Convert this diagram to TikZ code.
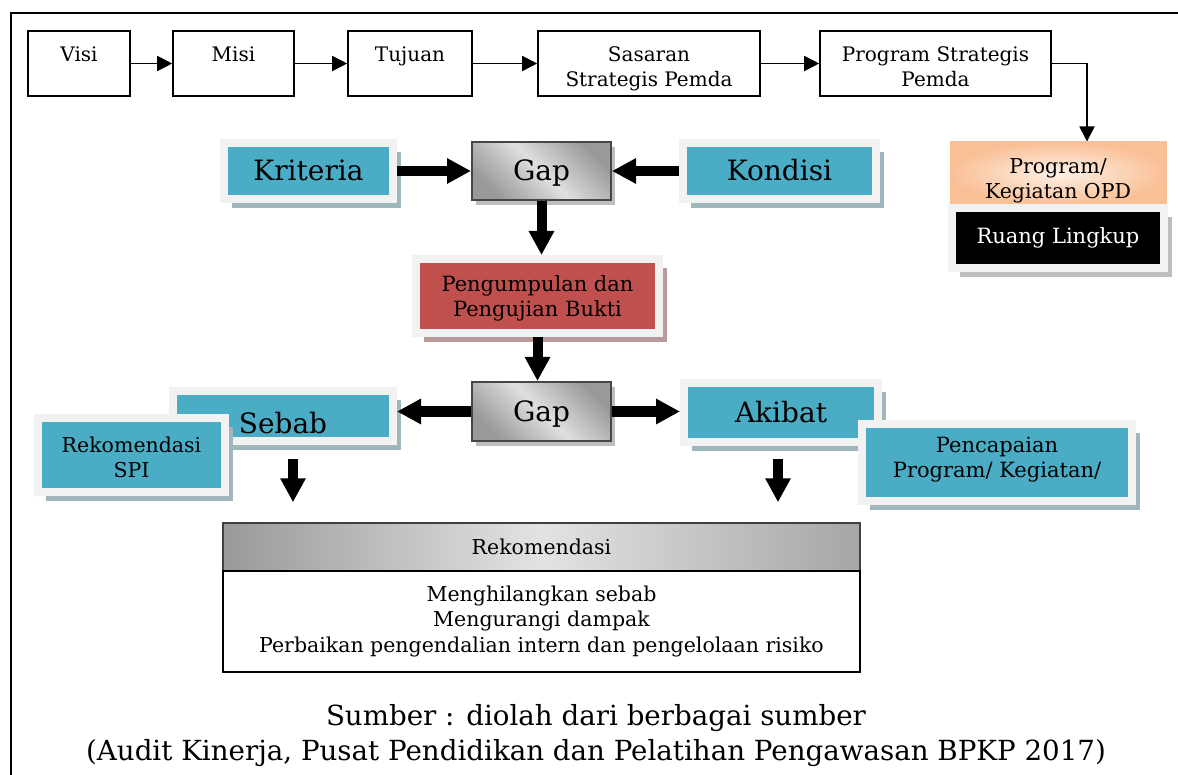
\documentclass[tikz,border=0pt]{standalone}
\usepackage{fontspec}
\setmainfont{DejaVu Serif}
\usetikzlibrary{arrows.meta,shadows}

\definecolor{tealfill}{HTML}{4BACC6}
\definecolor{framegray}{HTML}{F2F2F2}
\definecolor{redfill}{HTML}{C0504D}
\definecolor{tealshadow}{HTML}{9FB6BD}
\definecolor{redshadow}{HTML}{B89A9A}
\definecolor{grayshadow}{HTML}{BEBEBE}
\definecolor{opdlight}{HTML}{FEF1E7}
\definecolor{opddark}{HTML}{F9C096}

\newcommand{\fsz}[2]{\fontsize{#1}{#2}\selectfont}

\begin{document}
\begin{tikzpicture}[x=1pt, y=-1pt,
    topbox/.style={rectangle, draw, line width=1.6pt, fill=white, inner sep=0pt, align=center,
        minimum height=65pt, text height=15pt, text depth=18pt, font=\fsz{20}{25}},
    twolines/.style={text height=47pt, text depth=0pt},
    framebox/.style={rectangle, fill=#1, draw=framegray, line width=8pt, inner sep=0pt, align=center},
    tealbox/.style={framebox=tealfill, drop shadow={fill=tealshadow, opacity=1, shadow xshift=8pt, shadow yshift=-9pt}},
    gapbox/.style={rectangle, draw=gray!55!black, line width=2pt, inner sep=0pt,
        left color=gray!80, right color=gray!80, middle color=gray!25, shading angle=135,
        drop shadow={fill=grayshadow, opacity=1, shadow xshift=4pt, shadow yshift=-5pt},
        minimum width=139pt, font=\fsz{28}{34}, text height=20pt, text depth=0pt},
    bigtxt/.style={font=\fsz{28}{34}, text height=20pt, text depth=0pt},
    arrow/.style={-{Triangle[length=15pt,width=15pt]}, line width=1.8pt},
    bigarrow/.style={-{Triangle[length=24pt,width=24pt]}, line width=10pt}
]
    \useasboundingbox (0,0) rectangle (1178,775);
    \draw[line width=1.5pt] (11,780) -- (11,13) -- (1180,13);

    % top row
    \node[topbox, minimum width=102pt] (visi) at (79,63.5) {Visi};
    \node[topbox, minimum width=121pt] (misi) at (233.5,63.5) {Misi};
    \node[topbox, minimum width=124pt] (tujuan) at (410,63.5) {Tujuan};
    \node[topbox, twolines, minimum width=222pt] (sasaran) at (649,63.5) {Sasaran\\Strategis Pemda};
    \node[topbox, twolines, minimum width=231pt] (progpemda) at (935.5,63.5) {Program Strategis\\Pemda};

    \draw[arrow] (visi) -- (misi);
    \draw[arrow] (misi) -- (tujuan);
    \draw[arrow] (tujuan) -- (sasaran);
    \draw[arrow] (sasaran) -- (progpemda);

    % right side
    \node[rectangle, draw=opddark, line width=1pt, inner color=opdlight, outer color=opddark,
        minimum width=216pt, minimum height=62pt, inner sep=0pt, align=center,
        text height=52pt, text depth=0pt, font=\fsz{20.5}{25}] (opd) at (1058,173) {Program/\\Kegiatan OPD};
    \node[framebox=black, drop shadow={fill=grayshadow, opacity=1, shadow xshift=8pt, shadow yshift=-9pt},
        text=white, minimum width=212pt, minimum height=60pt, font=\fsz{21}{25},
        text height=15pt, text depth=3pt] (ruang) at (1058,238) {Ruang Lingkup};
    \draw[arrow] (progpemda.east) -| ([xshift=29pt]opd.north);

    % gap analysis
    \node[tealbox, bigtxt, minimum width=169pt, minimum height=56pt] (kriteria) at (308.5,171) {Kriteria};
    \node[gapbox, minimum height=58pt] (gap1) at (541.5,171) {Gap};
    \node[tealbox, bigtxt, minimum width=193pt, minimum height=56pt] (kondisi) at (779.5,171) {Kondisi};
    \node[framebox=redfill, drop shadow={fill=redshadow, opacity=1, shadow xshift=8pt, shadow yshift=-9pt},
        minimum width=243pt, minimum height=74pt, font=\fsz{21}{25}, text height=42pt, text depth=0pt]
        (bukti) at (537.5,296) {Pengumpulan dan\\Pengujian Bukti};
    \node[gapbox, minimum height=59pt] (gap2) at (541.5,411.5) {Gap};

    \node[tealbox, bigtxt, text height=34pt, minimum width=220pt, minimum height=50pt] (sebab) at (283,416) {Sebab};
    \node[tealbox, minimum width=187pt, minimum height=74pt, font=\fsz{20.5}{25}, text height=44pt, text depth=0pt]
        (rekspi) at (131.5,455) {Rekomendasi\\SPI};
    \node[tealbox, bigtxt, minimum width=194pt, minimum height=59pt] (akibat) at (781,412.5) {Akibat};
    \node[tealbox, minimum width=270pt, minimum height=77pt, font=\fsz{21}{25}, text height=29pt, text depth=0pt]
        (capai) at (997,462.5) {Pencapaian\\Program/ Kegiatan/};

    \draw[bigarrow] (kriteria) -- (gap1);
    \draw[bigarrow] (kondisi) -- (gap1);
    \draw[bigarrow] (gap1.south) -- (gap1.south |- bukti.north);
    \draw[bigarrow] (bukti.south) -- (bukti.south |- gap2.north);
    \draw[bigarrow] (gap2.west) -- (gap2.west -| sebab.east);
    \draw[bigarrow] (gap2.east) -- (gap2.east -| akibat.west);

    % recommendation
    \node[rectangle, draw=black!75, line width=1.5pt, left color=gray!80, right color=gray!70, middle color=gray!22,
        minimum width=637pt, minimum height=48pt, inner sep=0pt, font=\fsz{20.5}{25}] (rekhead) at (541.5,547) {Rekomendasi};
    \node[rectangle, draw, line width=1.8pt, fill=white, minimum width=637pt, minimum height=101pt, inner sep=0pt,
        align=center, font=\fsz{20.5}{25.5}, text height=61pt, text depth=0pt] (rekbody) at (541.5,621.5)
        {Menghilangkan sebab\\Mengurangi dampak\\Perbaikan pengendalian intern dan pengelolaan risiko};

    \draw[bigarrow, shorten <=14pt, shorten >=20pt] ([xshift=10pt]sebab.south) -- ([xshift=10pt]sebab.south |- rekhead.north);
    \draw[bigarrow, shorten <=13pt, shorten >=20pt] ([xshift=-3pt]akibat.south) -- ([xshift=-3pt]akibat.south |- rekhead.north);

    \node[align=center, font=\fsz{27.7}{35}, text height=40pt, text depth=0pt] (sumber) at (596,740)
        {Sumber : diolah dari berbagai sumber\\(Audit Kinerja, Pusat Pendidikan dan Pelatihan Pengawasan BPKP 2017)};
\end{tikzpicture}
\end{document}
